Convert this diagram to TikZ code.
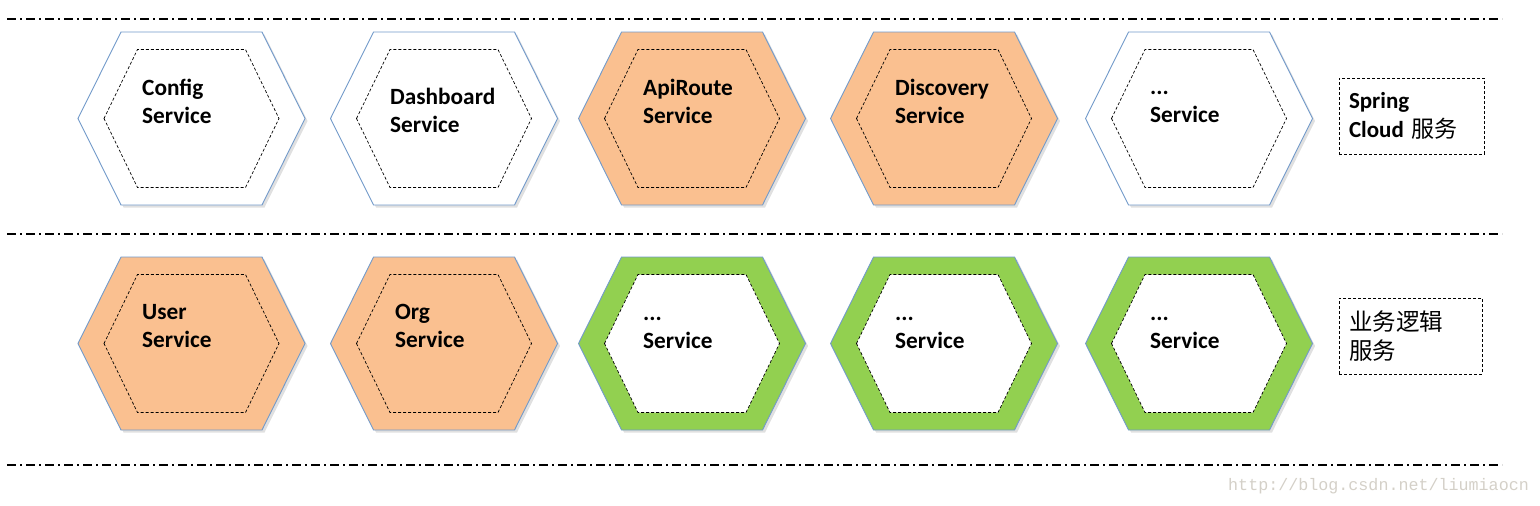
\documentclass[tikz,border=0pt]{standalone}
\usepackage{fontspec}
\setmainfont{Carlito}
\newfontfamily\cjk{Noto Sans CJK SC}
\newfontfamily\wmfont{Liberation Mono}
\definecolor{hexorange}{HTML}{FAC090}
\definecolor{hexgreen}{HTML}{92D050}
\definecolor{hexblue}{HTML}{4F81BD}
\definecolor{wmgray}{HTML}{D4D0C8}
\begin{document}
\begin{tikzpicture}[x=1pt,y=-1pt,
  sep/.style={line width=2pt,dash pattern=on 9pt off 4pt on 2pt off 4pt},
  hexo/.pic={\path[pic actions] (-113.5,0) -- (-70.5,-86.5) -- (70.5,-86.5) -- (113.5,0) -- (70.5,86.5) -- (-70.5,86.5) -- cycle;},
  hexi/.pic={\path[pic actions] (-87.5,0) -- (-54,-69) -- (54,-69) -- (87.5,0) -- (54,69) -- (-54,69) -- cycle;},
  shade/.style={fill=black,opacity=0.12,draw=none},
  outline/.style={draw=hexblue!80,line width=0.9pt},
  inner/.style={draw=black,line width=0.7pt,dash pattern=on 3pt off 2pt},
  svc/.style={font=\fontsize{23.3}{28}\selectfont\bfseries,align=left,anchor=west,inner sep=0pt},
  lbl/.style={draw=black,line width=0.8pt,dash pattern=on 3pt off 2pt,align=left,inner xsep=10pt,inner ysep=0pt,font=\fontsize{23}{29}\selectfont}
]
\useasboundingbox (0,0) rectangle (1540,506);
% separators
\coordinate (s1a) at (7,19);   \coordinate (s1b) at (1502,19);
\coordinate (s2a) at (7,234);  \coordinate (s2b) at (1502,234);
\coordinate (s3a) at (7,465);  \coordinate (s3b) at (1502,465);
\draw[sep] (s1a) -- (s1b);
\draw[sep] (s2a) -- (s2b);
\draw[sep] (s3a) -- (s3b);
% hexagon centres
\coordinate (h11) at (191.5,118.5);
\coordinate (h12) at (444,118.5);
\coordinate (h13) at (692,118.5);
\coordinate (h14) at (944,118.5);
\coordinate (h15) at (1199,118.5);
\coordinate (h21) at (191.5,343.5);
\coordinate (h22) at (444,343.5);
\coordinate (h23) at (692,343.5);
\coordinate (h24) at (944,343.5);
\coordinate (h25) at (1199,343.5);
% shadows
\foreach \h in {h11,h12,h13,h14,h15,h21,h22,h23,h24,h25}{
  \pic[shade] at ([shift={(2.5,2.5)}]\h) {hexo};
}
% white hexagons
\foreach \h in {h11,h12,h15}{
  \pic[fill=white,outline] at (\h) {hexo};
  \pic[inner] at (\h) {hexi};
}
% orange hexagons
\foreach \h in {h13,h14,h21,h22}{
  \pic[fill=hexorange,outline] at (\h) {hexo};
  \pic[inner] at (\h) {hexi};
}
% green hexagons
\foreach \h in {h23,h24,h25}{
  \pic[fill=hexgreen,outline] at (\h) {hexo};
  \pic[fill=white,inner] at (\h) {hexi};
}
% texts
\node[svc] (t11) at (142,101) {Config\\Service};
\node[svc] (t12) at (390,110) {Dashboard\\Service};
\node[svc] (t13) at (643,101) {ApiRoute\\Service};
\node[svc] (t14) at (895,101) {Discovery\\Service};
\node[svc] (t15) at (1150,107) {...\\Service};
\node[svc] (t21) at (142,326) {User\\Service};
\node[svc] (t22) at (395,326) {Org\\Service};
\node[svc] (t23) at (643,333) {...\\Service};
\node[svc] (t24) at (895,333) {...\\Service};
\node[svc] (t25) at (1150,333) {...\\Service};
% labels
\node[lbl,minimum width=145pt,minimum height=76pt,text width=125pt] (l1) at (1411.5,116)
  {\bfseries Spring\\\bfseries Cloud {\mdseries\cjk\fontsize{23}{29}\selectfont 服务}};
\node[lbl,minimum width=143pt,minimum height=76pt,text width=123pt] (l2) at (1410.5,336)
  {\cjk\fontsize{23.5}{31}\selectfont 业务逻辑\\服务};
% watermark
\node[font=\wmfont\fontsize{16.7}{20}\selectfont,text=wmgray,anchor=west,inner sep=0pt] (wm) at (1228,486) {http://blog.csdn.net/liumiaocn};
\end{tikzpicture}
\end{document}
